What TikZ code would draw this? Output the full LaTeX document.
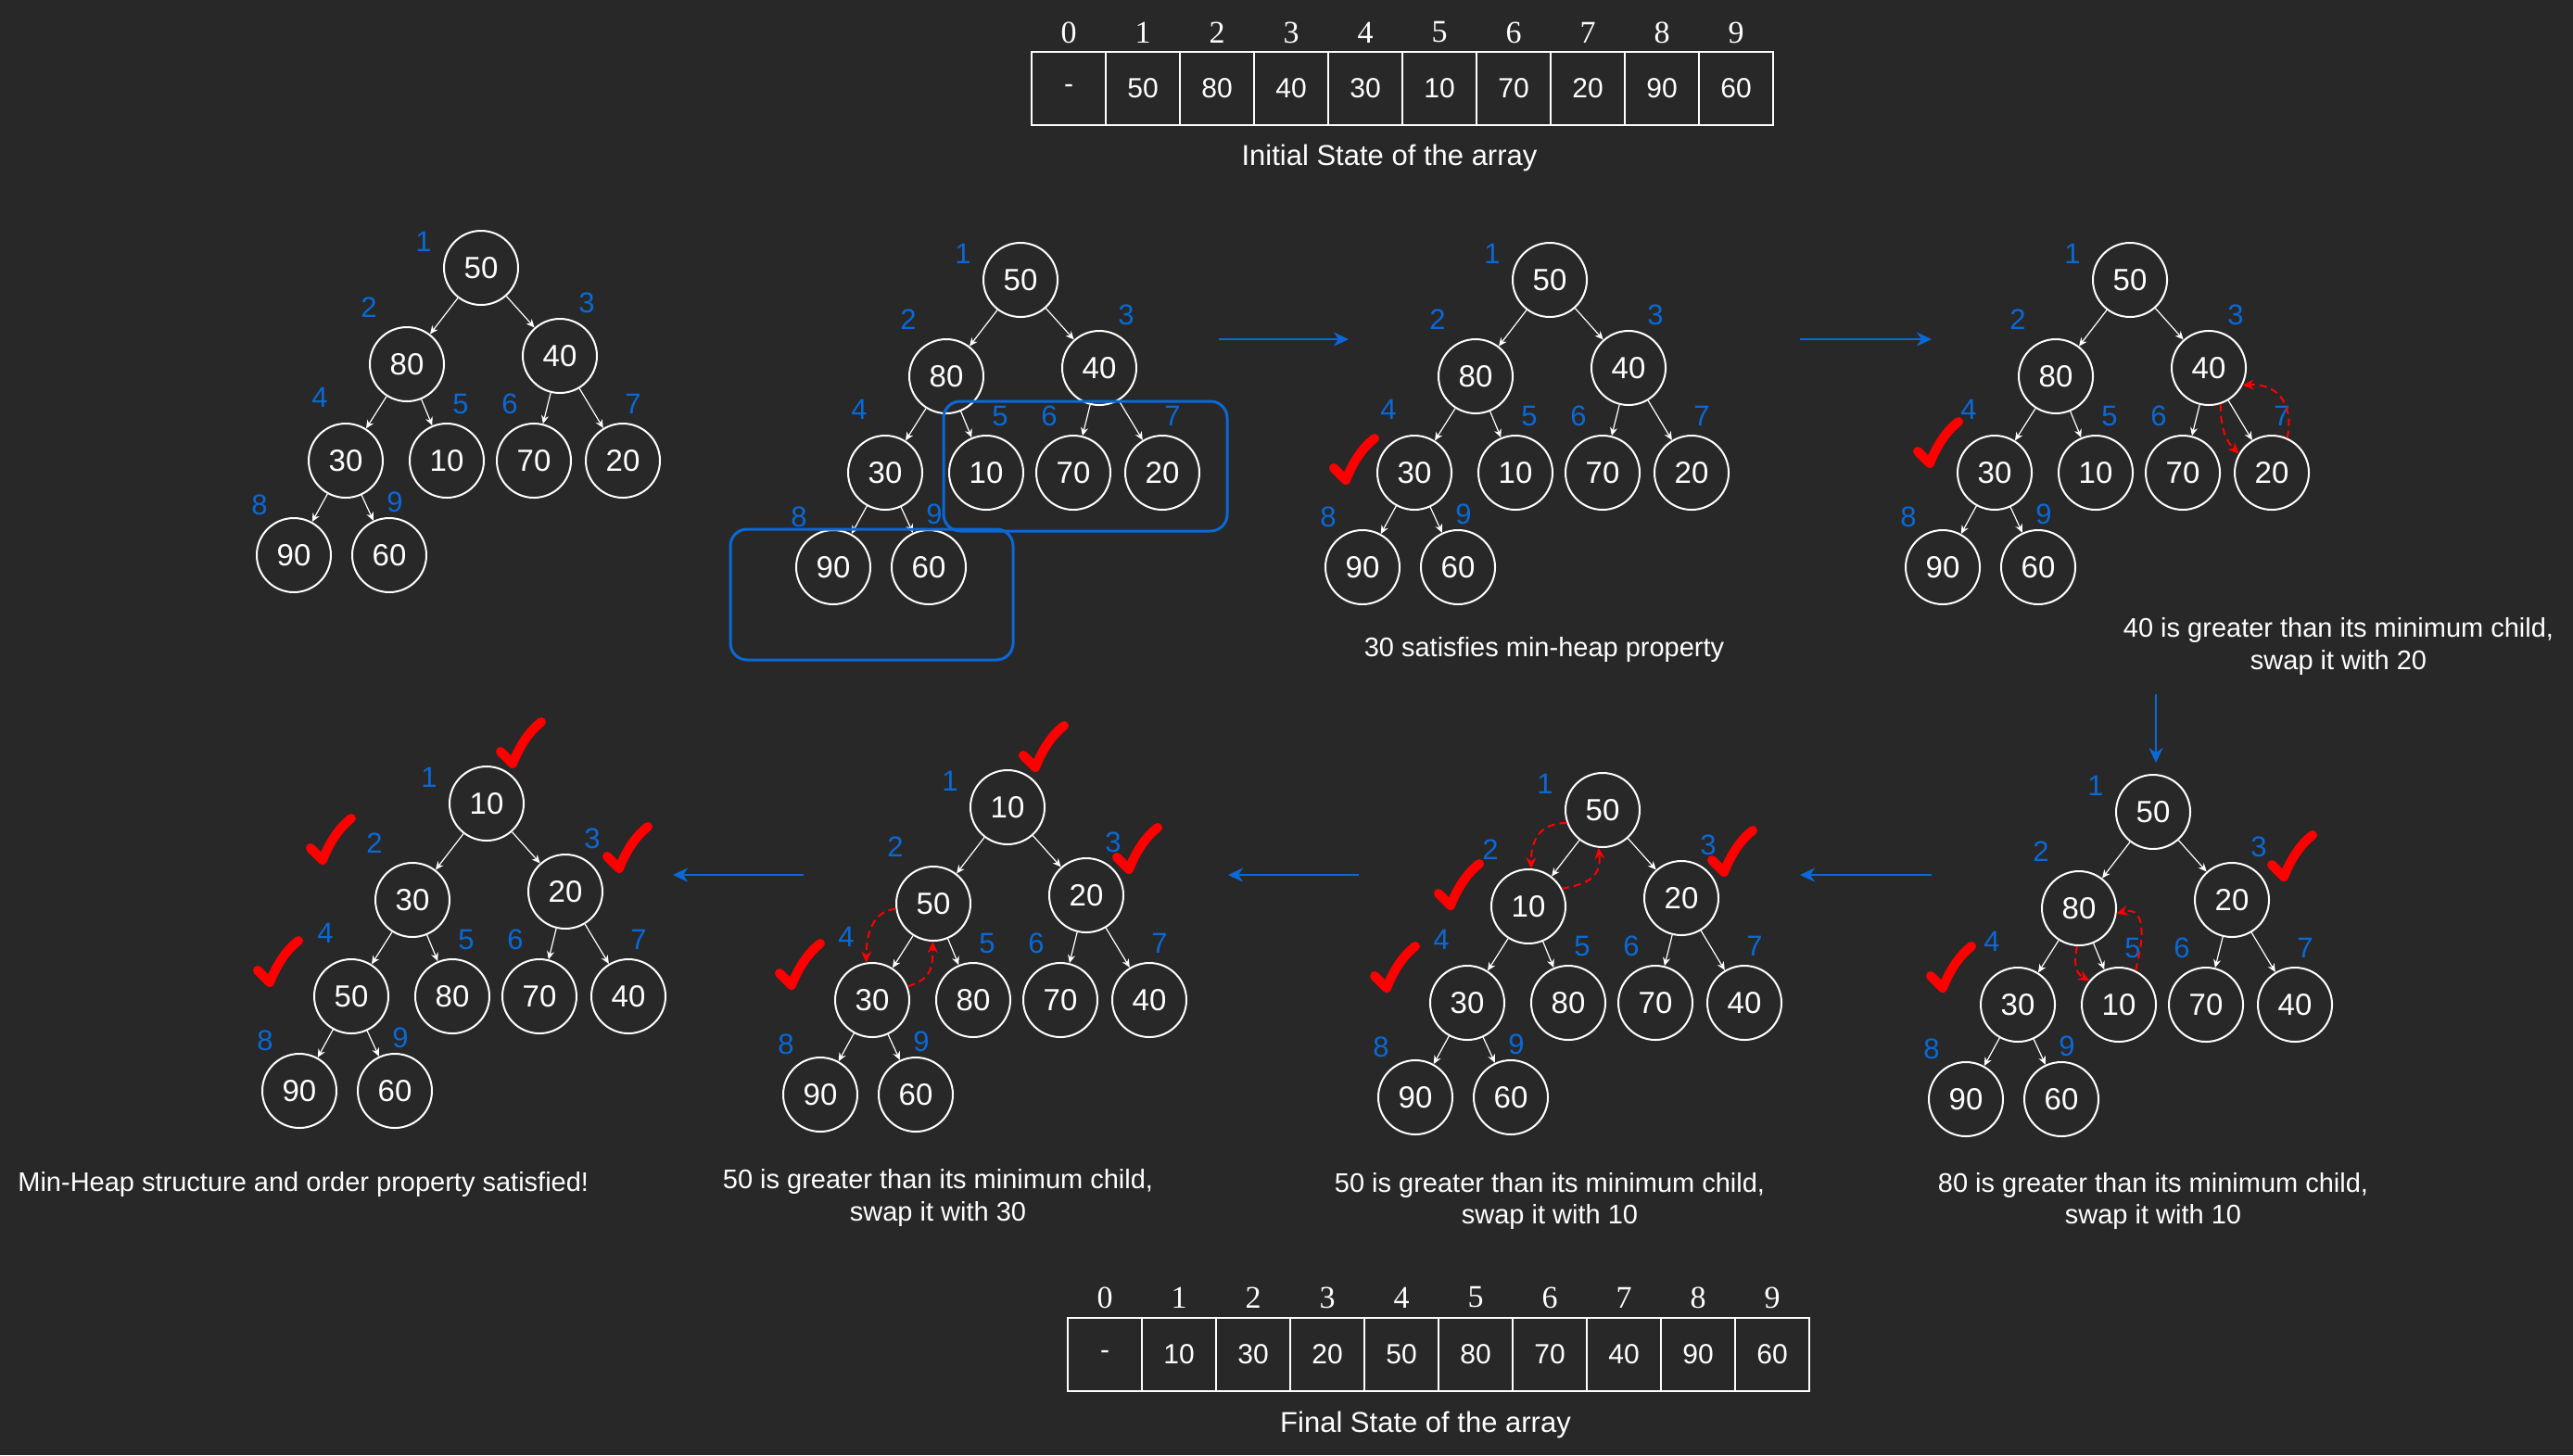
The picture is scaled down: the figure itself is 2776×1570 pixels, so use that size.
\documentclass[tikz,border=0pt]{standalone}
\usepackage{fontspec}
\setmainfont{Liberation Sans}
\newfontfamily\serifidx{Liberation Serif}
\usetikzlibrary{arrows.meta}
\definecolor{bg}{RGB}{40,40,40}
\definecolor{lblue}{RGB}{10,105,215}
\definecolor{chkred}{RGB}{255,0,0}
\tikzset{
 hnode/.style={circle, draw=white, line width=1pt, fill=bg, minimum size=40pt, inner sep=0pt, text=white, font=\fontsize{16.5}{19}\selectfont},
 hidx/.style={inner sep=0pt, text=lblue, font=\fontsize{15.5}{18}\selectfont},
 hedge/.style={draw=white, line width=0.6pt, -{Stealth[length=4.5pt,width=4pt]}},
 swapline/.style={draw=chkred, line width=1pt, dash pattern=on 4pt off 2.5pt, -{Stealth[length=6pt,width=5.5pt]}},
 flowarrow/.style={draw=lblue, line width=1.3pt, -{Stealth[length=8pt,width=7.5pt,inset=2.5pt]}},
 hbox/.style={draw=lblue, line width=1.5pt, rounded corners=9pt, inner sep=0pt},
 cell/.style={draw=white, line width=0.8pt, fill=bg, minimum width=40pt, minimum height=39.5pt, inner sep=0pt, text=white, font=\fontsize{15}{18}\selectfont},
 aidx/.style={inner sep=0pt, text=white, font=\serifidx\fontsize{17}{20}\selectfont},
 capt/.style={inner sep=0pt, text=white, font=\fontsize{14.5}{17.5}\selectfont},
 arrcap/.style={inner sep=0pt, text=white, font=\fontsize{15.5}{18}\selectfont},
 chk/.pic={\draw[chkred, line width=5pt, line cap=round, line join=round] (-13,-13) -- (0,0) .. controls (8,-20) and (18,-35) .. (31,-45);}
}
\newcommand\heaptree[4]{%
  \begin{scope}[shift={(#2,#3)}]
    \foreach \dx/\dy/\lx/\ly [count=\i] in {0/0/-62/-28, -80/104/-121/43, 85/95/114/38, -146/208/-174/140, -37/208/-22/147, 57/208/31/147, 153/208/164/147, -202/310/-239/256, -99/310/-93/253}{%
      \pgfmathtruncatemacro\hval{{#4}[\i-1]}%
      \node[hnode] (#1n\i) at (\dx,\dy) {\hval};
      \node[hidx] (#1l\i) at (\lx,\ly) {\i};
    }
    \foreach \c in {2,...,9}{%
      \pgfmathtruncatemacro\hpar{floor(\c/2)}%
      \draw[hedge] (#1n\hpar) -- (#1n\c);
    }
  \end{scope}}
\begin{document}
\begin{tikzpicture}[x=0.5pt, y=-0.5pt]
\useasboundingbox (0,0) rectangle (2776,1570);
\fill[bg] (0,0) rectangle (2776,1570);

% arrays
\foreach \v [count=\i from 0] in {-,50,80,40,30,10,70,20,90,60}{
  \node[cell] (ta\i) at ({1153+80*\i},95.5) {\v};
  \node[aidx] (ti\i) at ({1153+80*\i},35) {\i};
}
\node[arrcap, anchor=base] (topcap) at (1499,178) {Initial State of the array};
\foreach \v [count=\i from 0] in {-,10,30,20,50,80,70,40,90,60}{
  \node[cell] (ba\i) at ({1192+80*\i},1461.5) {\v};
  \node[aidx] (bi\i) at ({1192+80*\i},1400) {\i};
}
\node[arrcap, anchor=base] (botcap) at (1538,1545) {Final State of the array};

% trees
\heaptree{t1}{519}{289}{50,80,40,30,10,70,20,90,60}
\heaptree{t2}{1101}{302}{50,80,40,30,10,70,20,90,60}
\heaptree{t3}{1672}{302}{50,80,40,30,10,70,20,90,60}
\heaptree{t4}{2298}{302}{50,80,40,30,10,70,20,90,60}
\heaptree{t5}{2323}{876}{50,80,20,30,10,70,40,90,60}
\heaptree{t6}{1729}{874}{50,10,20,30,80,70,40,90,60}
\heaptree{t7}{1087}{871}{10,50,20,30,80,70,40,90,60}
\heaptree{t8}{525}{867}{10,30,20,50,80,70,40,90,60}

% blue boxes in tree 2
\node[hbox, minimum width=153pt, minimum height=70pt] (box1) at (1171,503) {};
\node[hbox, minimum width=152.5pt, minimum height=70.5pt] (box2) at (940.5,641.5) {};

% swap arrows
\draw[swapline] (t4n3.-72) .. controls +(0,30) and +(-12,-12) .. (t4n7.150);
\draw[swapline] (t4n7.66) .. controls +(8,-40) and +(35,-2) .. (t4n3.-27);
\draw[swapline] (t5n2.-93) .. controls +(-4,22) and +(-14,-8) .. (t5n5.141);
\draw[swapline] (t5n5.64) .. controls +(12,-45) and +(28,-8) .. (t5n2.-8);
\draw[swapline] (t6n1.-160) .. controls +(-30,0) and +(0,-30) .. (t6n2.86);
\draw[swapline] (t6n2.28) .. controls +(30,-5) and +(3,30) .. (t6n1.-96);
\draw[swapline] (t7n2.-172) .. controls +(-25,2) and +(0,-30) .. (t7n4.99);
\draw[swapline] (t7n4.21) .. controls +(25,-8) and +(0,30) .. (t7n2.-91);

% flow arrows
\coordinate (f1s) at (1315,366); \coordinate (f1e) at (1455,366);
\coordinate (f2s) at (1942,366); \coordinate (f2e) at (2084,366);
\coordinate (f3s) at (2326,749); \coordinate (f3e) at (2326,823);
\coordinate (f4s) at (2084,944); \coordinate (f4e) at (1942,944);
\coordinate (f5s) at (1466,944); \coordinate (f5e) at (1325,944);
\coordinate (f6s) at (867,944);  \coordinate (f6e) at (726,944);
\foreach \k in {1,...,6}{\draw[flowarrow] (f\k s) -- (f\k e);}

% check marks
\pic at (1452,518) {chk};
\pic at (2082,500) {chk};
\pic at (2464,946) {chk};
\pic at (2096,1066) {chk};
\pic at (1565,977) {chk};
\pic at (1860,941) {chk};
\pic at (1496,1066) {chk};
\pic at (1117,828) {chk};
\pic at (1218,938) {chk};
\pic at (854,1063) {chk};
\pic at (553,824) {chk};
\pic at (348,928) {chk};
\pic at (668,937) {chk};
\pic at (291,1060) {chk};

% captions
\node[capt, anchor=base] (c3) at (1666,708) {30 satisfies min-heap property};
\node[capt, anchor=base] (c4a) at (2523,687) {40 is greater than its minimum child,};
\node[capt, anchor=base] (c4b) at (2523,722) {swap it with 20};
\node[capt, anchor=base] (c5a) at (2323,1286) {80 is greater than its minimum child,};
\node[capt, anchor=base] (c5b) at (2323,1320) {swap it with 10};
\node[capt, anchor=base] (c6a) at (1672,1286) {50 is greater than its minimum child,};
\node[capt, anchor=base] (c6b) at (1672,1320) {swap it with 10};
\node[capt, anchor=base] (c7a) at (1012,1282) {50 is greater than its minimum child,};
\node[capt, anchor=base] (c7b) at (1012,1317) {swap it with 30};
\node[capt, anchor=base west] (c8) at (19,1285) {Min-Heap structure and order property satisfied!};
\end{tikzpicture}
\end{document}
